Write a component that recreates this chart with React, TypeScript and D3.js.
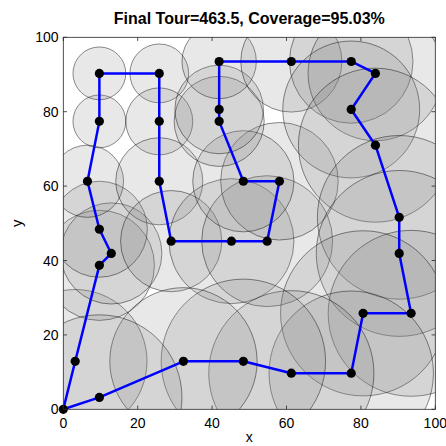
import React from "react";
import * as d3 from "d3";

// tour nodes in visiting order (closed back to the depot at 0,0)
const tourX = [0, 3.2, 9.7, 12.9, 9.7, 6.5, 9.7, 9.7, 25.8, 25.8, 25.8, 29.0, 45.2, 54.8, 58.1, 48.4, 41.9,
  41.9, 41.9, 61.3, 77.4, 83.9, 77.4, 83.9, 90.3, 90.3, 93.5, 80.6, 77.4, 61.3, 48.4, 32.3, 9.7];
const tourY = [0, 12.9, 38.7, 41.9, 48.4, 61.3, 77.4, 90.3, 90.3, 77.4, 61.3, 45.2, 45.2, 45.2, 61.3, 61.3, 77.4,
  80.6, 93.5, 93.5, 93.5, 90.3, 80.6, 71.0, 51.6, 41.9, 25.8, 25.8, 9.7, 9.7, 12.9, 12.9, 3.2];
// coverage radius of each node (depot has none)
const radius = [0, 19.3, 14.8, 13.6, 12.9, 9.7, 7.1, 7.1, 7.9, 9.0, 11.7, 13.6, 16.8, 17.6, 15.8, 13.6, 12.1,
  11.9, 10.0, 13.6, 16.6, 18.1, 18.4, 20.7, 22.0, 22.3, 22.3, 22.2, 22.1, 22.2, 22.1, 19.8, 22.2];

const ticks = [0, 20, 40, 60, 80, 100];
const title = "Final Tour=463.5, Coverage=95.03%";

export default function App() {
  const W = 446;
  const H = 446;
  const left = 63.3;
  const top = 37.3;
  const size = 372;
  const font = "'Liberation Sans', Arial, Helvetica, sans-serif";

  const x = d3.scaleLinear().domain([0, 100]).range([left, left + size]);
  const y = d3.scaleLinear().domain([0, 100]).range([top + size, top]);
  const k = x(1) - x(0);

  const pts: [number, number][] = tourX.map((d, i) => [d, tourY[i]]);
  const line = d3
    .line<[number, number]>()
    .x((d) => x(d[0]))
    .y((d) => y(d[1]));
  const path = line([...pts, pts[0]]) || "";

  const tickLen = 3.7;

  return (
    <svg width={W} height={H} style={{ position: "absolute", left: 0, top: 0, background: "#fff" }}>
      <defs>
        <clipPath id="plotclip">
          <rect x={left} y={top} width={size} height={size} />
        </clipPath>
      </defs>
      <rect x={left} y={top} width={size} height={size} fill="#fff" />
      <g clipPath="url(#plotclip)">
        {pts.map((d, i) =>
          radius[i] > 0 ? (
            <circle
              key={"c" + i}
              cx={x(d[0])}
              cy={y(d[1])}
              r={radius[i] * k}
              fill="#808080"
              fillOpacity={0.18}
              stroke="#000"
              strokeOpacity={0.75}
              strokeWidth={0.6}
            />
          ) : null
        )}
        <path d={path} fill="none" stroke="#0000ff" strokeWidth={2.5} strokeLinejoin="round" />
      </g>
      {pts.map((d, i) => (
        <circle key={"p" + i} cx={x(d[0])} cy={y(d[1])} r={4.6} fill="#000" />
      ))}

      {/* axes box and ticks */}
      <rect x={left} y={top} width={size} height={size} fill="none" stroke="#262626" strokeWidth={0.8} />
      {ticks.map((t) => (
        <g key={"t" + t} stroke="#262626" strokeWidth={0.8}>
          <line x1={x(t)} x2={x(t)} y1={top + size} y2={top + size - tickLen} />
          <line x1={x(t)} x2={x(t)} y1={top} y2={top + tickLen} />
          <line x1={left} x2={left + tickLen} y1={y(t)} y2={y(t)} />
          <line x1={left + size} x2={left + size - tickLen} y1={y(t)} y2={y(t)} />
        </g>
      ))}
      {ticks.map((t) => (
        <text key={"xl" + t} x={x(t)} y={427.5} textAnchor="middle" fontFamily={font} fontSize={14} fill="#000">
          {t}
        </text>
      ))}
      {ticks.map((t) => (
        <text key={"yl" + t} x={58.5} y={y(t) + 5} textAnchor="end" fontFamily={font} fontSize={14} fill="#000">
          {t}
        </text>
      ))}
      <text x={left + size / 2} y={441.5} textAnchor="middle" fontFamily={font} fontSize={14} fill="#000">
        x
      </text>
      <text
        transform={`translate(22.3, ${top + size / 2}) rotate(-90)`}
        textAnchor="middle"
        fontFamily={font}
        fontSize={15}
        fill="#000"
      >
        y
      </text>
      <text x={left + size / 2} y={24} textAnchor="middle" fontFamily={font} fontSize={16} fontWeight="bold" fill="#000">
        {title}
      </text>
    </svg>
  );
}
